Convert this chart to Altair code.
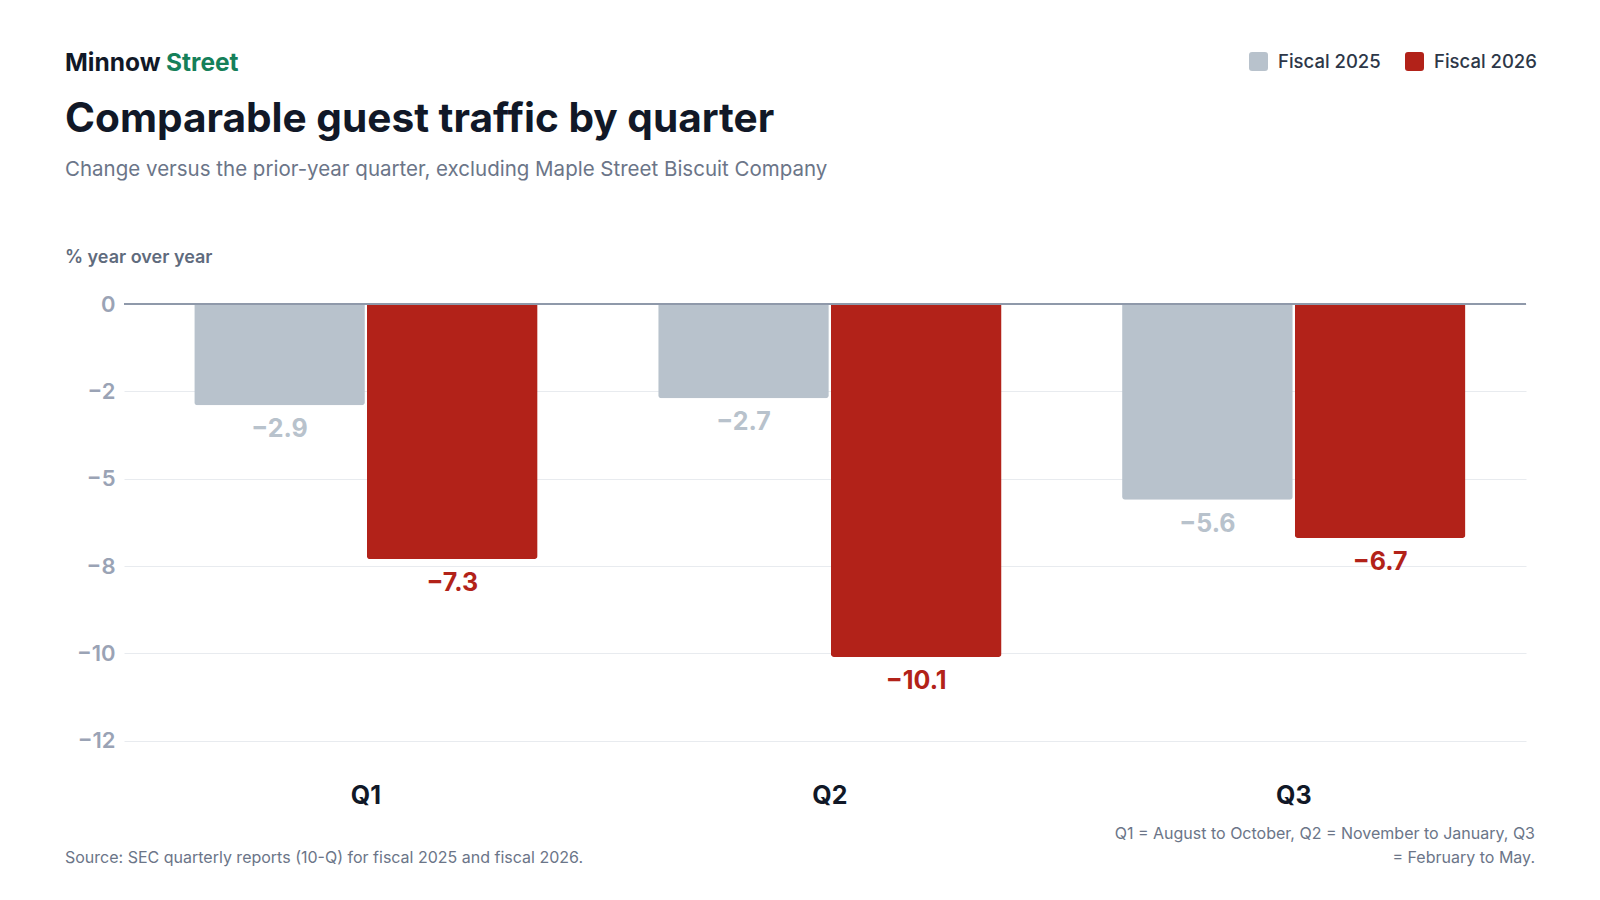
import altair as alt
import pandas as pd

quarters = ["Q1", "Q2", "Q3"]
series = ["Fiscal 2025", "Fiscal 2026"]
fy2025 = [-2.9, -2.7, -5.6]
fy2026 = [-7.3, -10.1, -6.7]
tick_values = [0, -2.5, -5, -7.5, -10, -12.5]
tick_labels = ["0", "\u22122", "\u22125", "\u22128", "\u221210", "\u221212"]
colors = ["#b8c2cc", "#b22219"]

rows = []
for q, a, b in zip(quarters, fy2025, fy2026):
    rows.append({"quarter": q, "series": series[0], "value": a})
    rows.append({"quarter": q, "series": series[1], "value": b})
df = pd.DataFrame(rows)
df["label"] = df["value"].map(lambda v: ("\u2212" if v < 0 else "") + f"{abs(v):.1f}")

label_expr = f"'{tick_labels[-1]}'"
for v, l in reversed(list(zip(tick_values[:-1], tick_labels[:-1]))):
    label_expr = f"datum.value == {v} ? '{l}' : ({label_expr})"

FONT = "Inter"
W, H = 1402, 463
PL, PT = 116, 296

x_enc = alt.X(
    "quarter:N", sort=quarters,
    scale=alt.Scale(paddingInner=0.26, paddingOuter=0.141, align=0.537),
    axis=alt.Axis(title=None, labelAngle=0, labelFontSize=25, labelFontWeight=700,
                  labelColor="#111827", labelPadding=16, domain=False, ticks=False, grid=False),
)
xo_enc = alt.XOffset("series:N", sort=series,
                     scale=alt.Scale(paddingInner=0.012, paddingOuter=0))
y_enc = alt.Y(
    "value:Q",
    scale=alt.Scale(domain=[-13.25, 0], nice=False, zero=False),
    axis=alt.Axis(title=None, values=tick_values, labelExpr=label_expr, grid=True,
                  gridColor="#e8ebef", gridWidth=1, domain=False, ticks=False,
                  labelFontSize=22, labelFontWeight=600, labelColor="#9aa3b5",
                  labelPadding=9),
)

base = alt.Chart(df)

bars = base.mark_bar(cornerRadiusBottomLeft=3, cornerRadiusBottomRight=3).encode(
    x=x_enc, xOffset=xo_enc, y=y_enc,
    color=alt.Color(
        "series:N", sort=series,
        scale=alt.Scale(domain=series, range=colors),
        legend=alt.Legend(
            title=None, orient="none", direction="horizontal",
            legendX=1125, legendY=-252, padding=0,
            symbolType="M-0.68,-1L0.68,-1Q1,-1 1,-0.68L1,0.68Q1,1 0.68,1L-0.68,1Q-1,1 -1,0.68L-1,-0.68Q-1,-1 -0.68,-1Z",
            symbolSize=361, symbolOpacity=1, symbolStrokeWidth=0,
            labelFontSize=18.5, labelFontWeight=500, labelColor="#2d3748",
            labelOffset=10, columnPadding=24, labelFont=FONT,
        ),
    ),
)

zero = alt.Chart(pd.DataFrame({"z": [0]})).mark_rule(color="#8f99aa", strokeWidth=2).encode(
    y="z:Q"
)

value_layers = []
for s, c in zip(series, colors):
    value_layers.append(
        base.transform_filter(alt.datum.series == s)
        .mark_text(fontSize=25, fontWeight=700, color=c, baseline="middle", dy=24, font=FONT)
        .encode(x=x_enc, xOffset=xo_enc, y=y_enc, text="label:N")
    )


def annot(text, x, y, size, weight, color, align="left"):
    return alt.Chart(pd.DataFrame({"t": [text]})).mark_text(
        fontSize=size, fontWeight=weight, color=color, align=align,
        baseline="alphabetic", font=FONT,
    ).encode(text="t:N", x=alt.value(x - PL - 8), y=alt.value(y - PT - 8))


annots = [
    annot("Minnow", 65, 71, 24.5, 700, "#111827"),
    annot("Street", 166, 71, 24.5, 700, "#15805a"),
    annot("Comparable guest traffic by quarter", 65, 132, 40.6, 700, "#111827"),
    annot("Change versus the prior-year quarter, excluding Maple Street Biscuit Company",
          65, 176, 20.5, 400, "#6b7588"),
    annot("% year over year", 65, 263, 18, 600, "#5f6b7d"),
    annot("Source: SEC quarterly reports (10-Q) for fiscal 2025 and fiscal 2026.",
          65, 863, 16, 400, "#6b7588"),
    annot("Q1 = August to October, Q2 = November to January, Q3",
          1535, 839, 16, 400, "#6b7588", align="right"),
    annot("= February to May.", 1535, 863, 16, 400, "#6b7588", align="right"),
]

chart = alt.layer(bars, zero, *value_layers, *annots).properties(
    width=W, height=H,
    padding={"left": PL, "top": PT, "right": 1584 - PL - W, "bottom": 884 - PT - H},
    autosize="none",
    background="white",
).configure(font=FONT).configure_view(stroke=None)

chart.save("out.html", embed_options={"renderer": "svg", "actions": False})
